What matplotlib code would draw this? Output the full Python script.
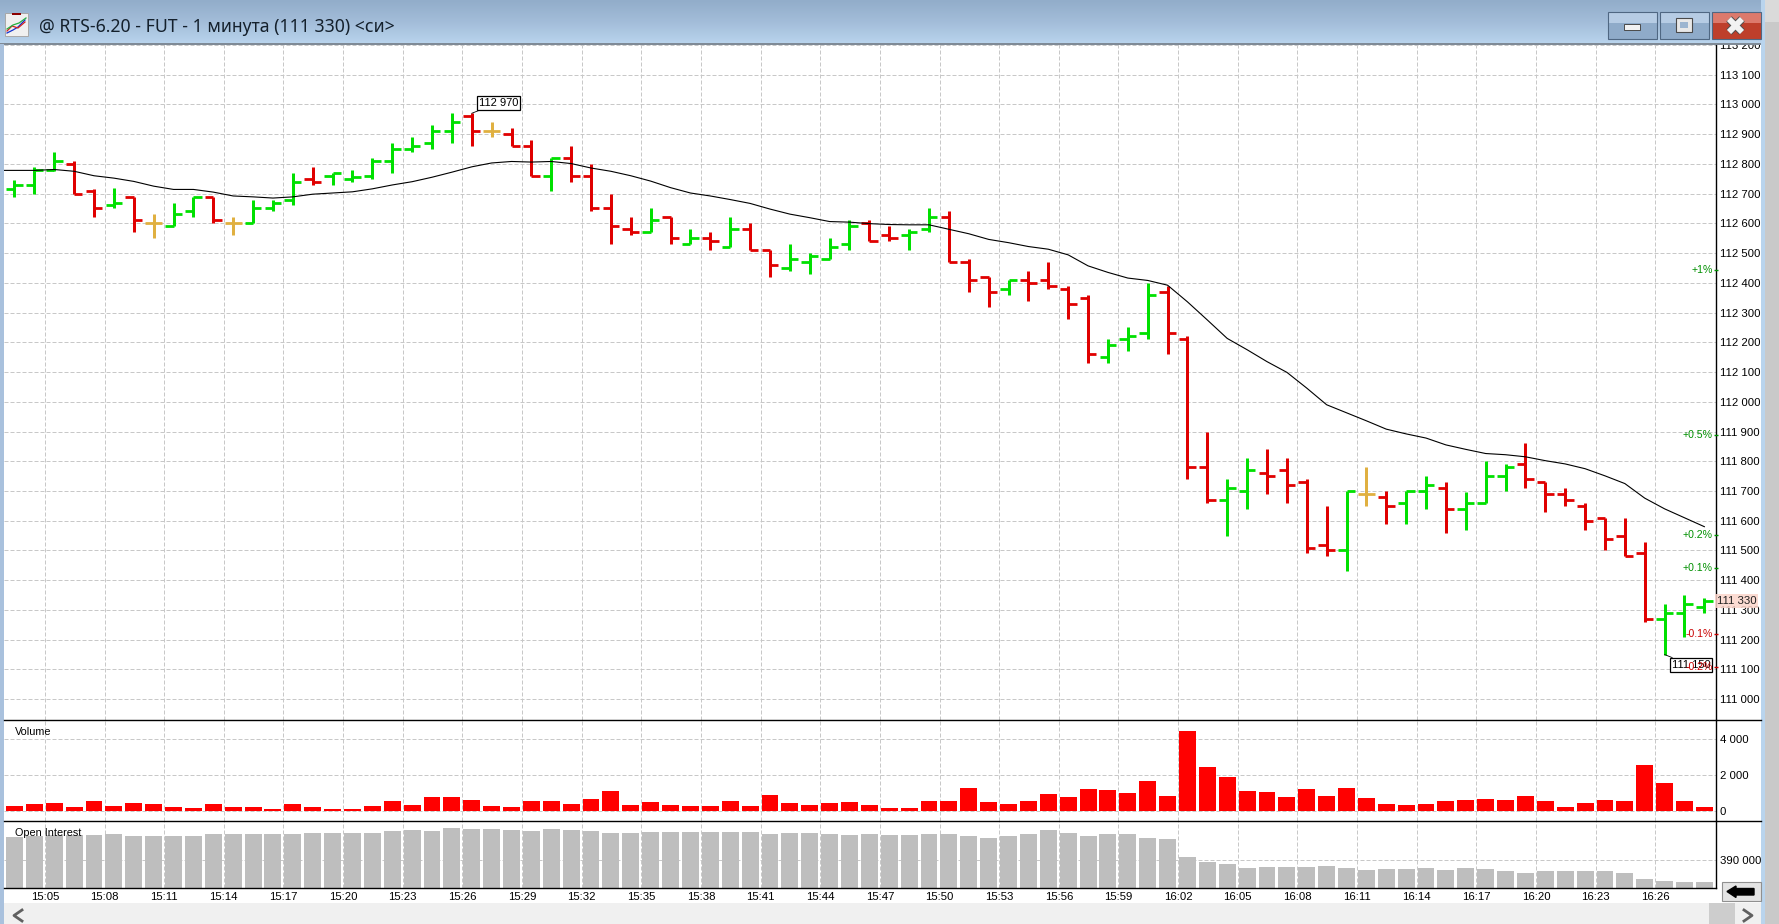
import numpy as np
import matplotlib
matplotlib.use('Agg')
import matplotlib.pyplot as plt
from matplotlib.patches import Rectangle
from matplotlib.colors import LinearSegmentedColormap

W, H = 1779, 924

opens = [112715, 112730, 112780, 112800, 112710, 112660, 112690, 112600, 112590, 112640,
         112690, 112600, 112600, 112650, 112680, 112750, 112760, 112750, 112760, 112810,
         112850, 112870, 112910, 112960, 112910, 112900, 112860, 112760, 112820, 112760,
         112650, 112580, 112570, 112620, 112530, 112550, 112520, 112580, 112510, 112450,
         112470, 112480, 112530, 112600, 112560, 112560, 112580, 112620, 112470, 112420,
         112380, 112410, 112410, 112380, 112350, 112150, 112210, 112230, 112370, 112210,
         111780, 111670, 111700, 111760, 111770, 111730, 111520, 111500, 111690, 111680,
         111660, 111700, 111710, 111640, 111660, 111750, 111790, 111730, 111690, 111650,
         111610, 111550, 111490, 111270, 111290, 111310]
highs = [112745, 112790, 112840, 112810, 112715, 112720, 112690, 112630, 112670, 112690,
         112690, 112620, 112680, 112680, 112770, 112790, 112770, 112780, 112820, 112870,
         112890, 112930, 112970, 112970, 112940, 112920, 112880, 112820, 112860, 112800,
         112700, 112620, 112650, 112620, 112580, 112570, 112620, 112600, 112510, 112530,
         112500, 112550, 112610, 112610, 112590, 112580, 112650, 112640, 112480, 112420,
         112410, 112440, 112470, 112390, 112360, 112210, 112250, 112400, 112390, 112220,
         111900, 111740, 111810, 111840, 111810, 111740, 111650, 111700, 111780, 111700,
         111700, 111750, 111730, 111695, 111800, 111790, 111860, 111730, 111710, 111660,
         111610, 111610, 111530, 111320, 111350, 111340]
lows = [112690, 112700, 112775, 112700, 112620, 112650, 112570, 112550, 112590, 112620,
        112600, 112560, 112600, 112640, 112660, 112730, 112730, 112740, 112750, 112770,
        112840, 112850, 112870, 112860, 112890, 112860, 112760, 112710, 112740, 112640,
        112530, 112560, 112570, 112530, 112530, 112510, 112520, 112510, 112420, 112440,
        112430, 112480, 112510, 112540, 112540, 112510, 112570, 112470, 112370, 112320,
        112360, 112340, 112380, 112280, 112130, 112130, 112170, 112210, 112160, 111740,
        111660, 111550, 111640, 111690, 111660, 111490, 111480, 111430, 111650, 111590,
        111590, 111640, 111560, 111570, 111660, 111700, 111710, 111630, 111650, 111570,
        111500, 111480, 111260, 111150, 111210, 111290]
closes = [112730, 112780, 112810, 112700, 112650, 112670, 112610, 112600, 112630, 112690,
          112610, 112600, 112650, 112670, 112740, 112740, 112770, 112755, 112810, 112850,
          112860, 112910, 112940, 112910, 112910, 112860, 112760, 112820, 112760, 112650,
          112590, 112570, 112610, 112550, 112550, 112540, 112580, 112510, 112460, 112480,
          112490, 112520, 112590, 112540, 112550, 112570, 112620, 112470, 112410, 112370,
          112410, 112400, 112390, 112330, 112160, 112190, 112220, 112360, 112230, 111780,
          111670, 111710, 111770, 111750, 111720, 111510, 111500, 111700, 111690, 111650,
          111700, 111720, 111640, 111660, 111750, 111780, 111740, 111690, 111670, 111600,
          111540, 111480, 111270, 111290, 111320, 111330]

# moving average, first value belongs to the bar before the window
ma_values = [112778, 112778, 112778, 112781, 112775, 112760, 112752, 112741, 112725, 112714,
             112714, 112705, 112692, 112689, 112685, 112689, 112698, 112702, 112706, 112716,
             112729, 112740, 112755, 112772, 112790, 112803, 112808, 112806, 112808, 112801,
             112786, 112775, 112760, 112742, 112720, 112702, 112692, 112680, 112667, 112648,
             112631, 112619, 112606, 112604, 112599, 112596, 112595, 112595, 112580, 112565,
             112546, 112535, 112522, 112513, 112494, 112457, 112435, 112416, 112408, 112392,
             112336, 112275, 112213, 112175, 112135, 112099, 112046, 111990, 111963, 111936,
             111908, 111892, 111878, 111855, 111840, 111826, 111822, 111815, 111802, 111791,
             111775, 111751, 111725, 111676, 111640, 111610, 111580]

volumes = [296, 407, 462, 240, 574, 296, 462, 407, 240, 185,
           407, 240, 240, 130, 407, 240, 130, 130, 296, 574,
           352, 796, 796, 629, 296, 240, 574, 574, 407, 685,
           1130, 352, 518, 352, 296, 296, 574, 296, 907, 462,
           352, 462, 518, 352, 185, 185, 574, 574, 1296, 518,
           407, 574, 962, 796, 1240, 1185, 1018, 1685, 851, 4463,
           2463, 1907, 1130, 1074, 796, 1240, 851, 1296, 740, 407,
           352, 407, 574, 629, 685, 629, 851, 574, 240, 462,
           629, 574, 2574, 1574, 574, 240]
open_interest = [397000, 397300, 397600, 397600, 397600, 397900, 397300, 397300, 397300, 397300,
                 397900, 397900, 397900, 397900, 397900, 398200, 398200, 398200, 398200, 398800,
                 399100, 398800, 399700, 399400, 399400, 399100, 398800, 399400, 399100, 398800,
                 398200, 398200, 398500, 398500, 398500, 398500, 398500, 398500, 397900, 398200,
                 398200, 397900, 397600, 397900, 397600, 397600, 397900, 397900, 397300, 396700,
                 397300, 397900, 399100, 398200, 397300, 397900, 397900, 396700, 396400, 391000,
                 389500, 388900, 387700, 388000, 388000, 388000, 388300, 387700, 387100, 387400,
                 387400, 387700, 387100, 387700, 387400, 386800, 386200, 386800, 386800, 386800,
                 386800, 386200, 384400, 383800, 383500, 383500]

time_labels = ['15:05', '15:08', '15:11', '15:14', '15:17', '15:20', '15:23', '15:26', '15:29',
               '15:32', '15:35', '15:38', '15:41', '15:44', '15:47', '15:50', '15:53', '15:56',
               '15:59', '16:02', '16:05', '16:08', '16:11', '16:14', '16:17', '16:20', '16:23',
               '16:26']
time_bars = [2, 5, 8, 11, 14, 17, 20, 23, 26, 29, 32, 35, 38, 41, 44, 47, 50, 53, 56, 59, 62, 65,
             68, 71, 74, 77, 80, 83]
price_ticks = list(range(111000, 113300, 100))
volume_ticks = [0, 2000, 4000]
oi_ticks = [390000]
pct_labels = ['+1%', '+0.5%', '+0.2%', '+0.1%', '-0.1%', '-0.2%']
pct_prices = [112443, 111887, 111553, 111441, 111219, 111107]
pct_colors = ['#009000', '#009000', '#009000', '#009000', '#C80000', '#C80000']
last_price = 111330
high_label, high_bar, high_price = '112 970', 23, 112970
low_label, low_bar, low_price = '111 150', 83, 111150

GRID = '#C8C8C8'
FONT = 'Liberation Sans'


def space_fmt(v):
    return f'{v:,}'.replace(',', ' ')


def pane(fig, left, top, right, bottom):
    ax = fig.add_axes([left / W, 1 - bottom / H, (right - left) / W, (bottom - top) / H])
    ax.set_xlim(-0.528, 85.56)
    ax.set_xticks(np.array(time_bars) - 0.47)
    ax.tick_params(axis='both', length=0, labelsize=8.2, pad=3)
    ax.tick_params(axis='x', labelbottom=False)
    ax.yaxis.tick_right()
    ax.grid(True, color=GRID, linestyle=(0, (4, 2)), linewidth=0.72)
    ax.set_axisbelow(True)
    for s in ['top', 'left', 'bottom']:
        ax.spines[s].set_visible(False)
    ax.spines['right'].set_linewidth(1.0)
    for t in ax.get_yticklabels():
        t.set_fontfamily(FONT)
    return ax


fig = plt.figure(figsize=(W / 100, H / 100), dpi=100, facecolor='white')

# price pane
ax = pane(fig, 4, 44, 1715.5, 720.3)
ax.set_ylim(110929, 113203)
ax.set_yticks(price_ticks)
ax.set_yticklabels([space_fmt(v) for v in price_ticks], fontfamily=FONT)

x = np.arange(len(opens))
colors = ['#00E000' if c > o else '#E00000' if c < o else '#E0B040' for o, c in zip(opens, closes)]
ax.vlines(x, lows, highs, colors=colors, linewidth=2.15, zorder=3)
ax.hlines(opens, x - 0.42, x, colors=colors, linewidth=2.0, zorder=3)
ax.hlines(closes, x, x + 0.42, colors=colors, linewidth=2.0, zorder=3)
ax.plot(np.arange(-1, len(opens)), ma_values, color='black', linewidth=0.8, zorder=4)

for lab, p, c in zip(pct_labels, pct_prices, pct_colors):
    ax.annotate(lab, xy=(1, p), xycoords=('axes fraction', 'data'), xytext=(-2.5, 0),
                textcoords='offset pixels', ha='right', va='center', fontsize=7.6,
                fontfamily=FONT, color=c, zorder=7)
    ax.plot([1], [p], marker='_', markersize=3, color=c, transform=ax.get_yaxis_transform(),
            clip_on=False, zorder=7)

box = dict(boxstyle='square,pad=0.18', facecolor='white', edgecolor='black', linewidth=0.9)
ax.annotate(high_label, xy=(high_bar, high_price), xytext=(7, 5.5), textcoords='offset pixels',
            ha='left', va='bottom', fontsize=8, fontfamily=FONT, bbox=box,
            arrowprops=dict(arrowstyle='-', color='black', linewidth=0.6, shrinkA=0, shrinkB=0),
            zorder=6)
ax.annotate(low_label, xy=(low_bar, low_price), xytext=(7, -5.5), textcoords='offset pixels',
            ha='left', va='top', fontsize=8, fontfamily=FONT, bbox=box,
            arrowprops=dict(arrowstyle='-', color='black', linewidth=0.6, shrinkA=0, shrinkB=0),
            zorder=5)
ax.text(1.0006, last_price, space_fmt(last_price), transform=ax.get_yaxis_transform(), ha='left',
        va='center', fontsize=8.2, fontfamily=FONT, color='#222222', clip_on=False, zorder=6,
        bbox=dict(facecolor='#FBD5CB', edgecolor='none', pad=1.2, alpha=0.85))

# volume pane
ax_v = pane(fig, 4, 720.3, 1715.5, 821.3)
ax_v.set_ylim(-555, 5056)
ax_v.set_yticks(volume_ticks)
ax_v.set_yticklabels([space_fmt(v) for v in volume_ticks], fontfamily=FONT)
ax_v.bar(x, volumes, width=0.85, color='#FF0000', zorder=3)
ax_v.text(0.0064, 0.887, 'Volume', transform=ax_v.transAxes, fontsize=7.8, fontfamily=FONT,
          ha='left', va='center')

# open interest pane
ax_o = pane(fig, 4, 821.3, 1715.5, 888.3)
ax_o.set_ylim(381600, 401700)
ax_o.set_yticks(oi_ticks)
ax_o.set_yticklabels([space_fmt(v) for v in oi_ticks], fontfamily=FONT)
ax_o.tick_params(axis='x', labelbottom=True, pad=2.5, labelsize=8.2)
ax_o.set_xticklabels(time_labels, fontfamily=FONT)
ax_o.bar(x, open_interest, width=0.85, color='#BEBEBE', zorder=3)
ax_o.text(0.0064, 0.82, 'Open Interest', transform=ax_o.transAxes, fontsize=7.8, fontfamily=FONT,
          ha='left', va='center', zorder=5)

# window chrome in pixel coordinates, drawn on top
ch = fig.add_axes([0, 0, 1, 1], zorder=10)
ch.patch.set_alpha(0)
ch.axis('off')


def rect(x0, y0, x1, y1, **kw):
    ch.add_patch(Rectangle((x0, y0), x1 - x0, y1 - y0, linewidth=kw.pop('linewidth', 0), **kw))


title_cmap = LinearSegmentedColormap.from_list('title', ['#92ADCA', '#A3BDD9', '#B9D4ED'])
ch.imshow(np.linspace(0, 1, 44)[:, None], extent=(0, W, 44, 0), cmap=title_cmap, aspect='auto')
ch.set_xlim(0, W)
ch.set_ylim(H, 0)

rect(0, 43.4, 1761, 44.6, facecolor='#7F8A96')
rect(0, 44, 4, H, facecolor='#A9C1DD')
rect(1761, 0, 1765, H, facecolor='#B9D4ED')
rect(1765, 0, W, H, facecolor='#C9C9C9')
rect(1765, 0, W, 22, facecolor='#DADADA')
rect(4, 903, 1761, H, facecolor='#F0F0F0')
rect(1709, 903, 1735, H, facecolor='#CDCDCD')

# separators that run under the price scale too
ch.plot([4, 1761], [720.3, 720.3], color='black', linewidth=1.0)
ch.plot([4, 1761], [821.3, 821.3], color='black', linewidth=1.0)
ch.plot([4, 1715.5], [888.3, 888.3], color='black', linewidth=1.0)

# scroll arrows
ch.plot([22, 14, 22], [910, 915.5, 921], color='#606060', linewidth=2)
ch.plot([1744, 1752, 1744], [910, 915.5, 921], color='#606060', linewidth=2)

# back button
rect(1722, 882, 1761, 901, facecolor='#E4E4E4', edgecolor='#909090', linewidth=0.8)
ch.fill([1727, 1736, 1736, 1754, 1754, 1736, 1736], [891.5, 886, 888.5, 888.5, 895, 895, 897.5],
        color='black')

# title bar buttons
for bx0, bx1, top_c, low_c in [(1607.6, 1656.5, '#B6CCE4', '#8FABC9'),
                               (1659.5, 1708.5, '#B6CCE4', '#8FABC9'),
                               (1711.5, 1760.5, '#DC7A6C', '#BE3F2B')]:
    rect(bx0, 11.7, bx1, 39, facecolor=top_c)
    rect(bx0, 23, bx1, 39, facecolor=low_c)
    rect(bx0, 11.7, bx1, 39, facecolor='none', edgecolor='#4F6782', linewidth=0.8)
rect(1624, 24, 1640, 30, facecolor='#F2F2F2', edgecolor='#4A4A4A', linewidth=0.7)
rect(1676, 18, 1692, 32, facecolor='#E8E8E8', edgecolor='#4A4A4A', linewidth=0.8)
rect(1680, 22, 1688, 28, facecolor='#9CB5D0')
ch.plot([1729, 1742], [19, 32], color='#505050', linewidth=5.6, solid_capstyle='butt')
ch.plot([1742, 1729], [19, 32], color='#505050', linewidth=5.6, solid_capstyle='butt')
ch.plot([1729, 1742], [19, 32], color='#F2F2F2', linewidth=4.2, solid_capstyle='butt')
ch.plot([1742, 1729], [19, 32], color='#F2F2F2', linewidth=4.2, solid_capstyle='butt')

# app icon
rect(5, 13, 28, 36, facecolor='#F0F0F0', edgecolor='#A8A8A8', linewidth=0.7)
rect(12, 13, 21, 15, facecolor='#8B0000')
ch.plot([7, 13, 18, 25], [33, 30, 27, 20], color='#1030D0', linewidth=0.9)
ch.plot([7, 12, 18, 25], [31, 26, 28, 22], color='#D02020', linewidth=0.9)
ch.plot([7, 13, 19, 26], [29, 25, 23, 18], color='#20B040', linewidth=0.9)

ch.text(39, 27, '@ RTS-6.20 - FUT - 1 минута (111 330) <си>', fontsize=12.7, fontfamily='Noto Sans',
        color='#14202C', ha='left', va='center')

fig.savefig('out.png', dpi=100, facecolor='white')
